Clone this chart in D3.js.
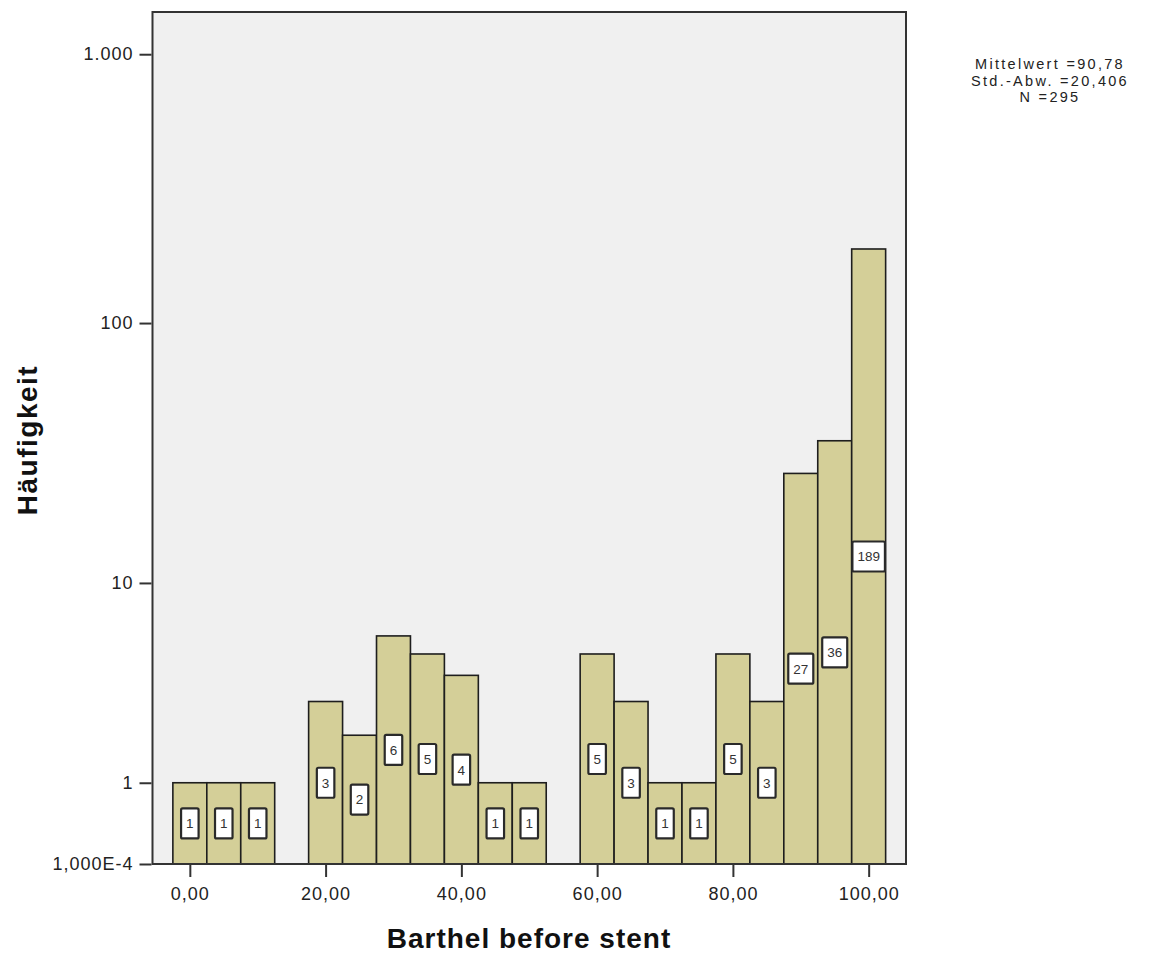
<!DOCTYPE html>
<html>
<head>
<meta charset="utf-8">
<script src="https://cdn.jsdelivr.net/npm/d3@7"></script>
<style>
  body { margin: 0; background: #fff; }
  text { font-family: "Liberation Sans", Arial, sans-serif; fill: #222; }
</style>
</head>
<body>
<div id="chart"></div>
<script>
// histogram bins (centre of each 5-point bin) and counts
const binCenters = [0, 5, 10, 15, 20, 25, 30, 35, 40, 45, 50, 55, 60, 65, 70, 75, 80, 85, 90, 95, 100];
const counts     = [1, 1, 1, 0, 3, 2, 6, 5, 4, 1, 1, 0, 5, 3, 1, 1, 5, 3, 27, 36, 189];
const binWidth = 5;

const xTickValues = [0, 20, 40, 60, 80, 100];
const yTickValues = [0.0001, 1, 10, 100, 1000];
const yTickLabels = ["1,000E-4", "1", "10", "100", "1.000"];

const statLines = ["Mittelwert =90,78", "Std.-Abw. =20,406", "N =295"];
const xTitle = "Barthel before stent";
const yTitle = "Häufigkeit";

const width = 1149, height = 954;
const plot = {left: 152.5, right: 906, top: 12, bottom: 864};

const svg = d3.select("#chart").append("svg")
    .attr("width", width)
    .attr("height", height);

const x = d3.scaleLinear()
    .domain([-5.5, 105.5])
    .range([plot.left, plot.right]);

// SPSS log axis is really log(1 + n)
const y = d3.scaleSymlog()
    .constant(1)
    .domain([0, 1434])
    .range([plot.bottom, plot.top]);

// plot background
svg.append("rect")
    .attr("x", plot.left)
    .attr("y", plot.top)
    .attr("width", plot.right - plot.left)
    .attr("height", plot.bottom - plot.top)
    .attr("fill", "#f0f0f0");

const bins = binCenters.map((c, i) => ({x0: c - binWidth / 2, x1: c + binWidth / 2, n: counts[i]}))
    .filter(d => d.n > 0);

// bars
svg.selectAll(".bar")
    .data(bins)
    .join("rect")
    .attr("class", "bar")
    .attr("x", d => x(d.x0))
    .attr("y", d => y(d.n))
    .attr("width", d => x(d.x1) - x(d.x0))
    .attr("height", d => y(0) - y(d.n))
    .attr("fill", "#d4cf98")
    .attr("stroke", "#1e1e1e")
    .attr("stroke-width", 1.6);

// count labels in white boxes
const labels = svg.selectAll(".lab")
    .data(bins)
    .join("g")
    .attr("class", "lab")
    .attr("transform", d => `translate(${x((d.x0 + d.x1) / 2)}, ${(y(d.n) + y(0)) / 2})`);

labels.append("text")
    .attr("text-anchor", "middle")
    .attr("dy", "0.36em")
    .style("font-size", "13.5px")
    .style("fill", "#333")
    .text(d => d.n);

labels.each(function () {
    let g = d3.select(this);
    let w = g.select("text").node().getComputedTextLength() + 10;
    g.insert("rect", "text")
        .attr("x", -w / 2)
        .attr("y", -15)
        .attr("width", w)
        .attr("height", 30)
        .attr("rx", 1.5)
        .attr("fill", "#fff")
        .attr("stroke", "#2a2a2a")
        .attr("stroke-width", 2.2);
});

// plot border
svg.append("rect")
    .attr("x", plot.left)
    .attr("y", plot.top)
    .attr("width", plot.right - plot.left)
    .attr("height", plot.bottom - plot.top)
    .attr("fill", "none")
    .attr("stroke", "#333")
    .attr("stroke-width", 2);

// axes
const xAxis = d3.axisBottom(x)
    .tickValues(xTickValues)
    .tickFormat(d => d3.format(".2f")(d).replace(".", ","))
    .tickSize(12)
    .tickPadding(10);

const yAxis = d3.axisLeft(y)
    .tickValues(yTickValues)
    .tickFormat((d, i) => yTickLabels[i])
    .tickSize(12)
    .tickPadding(6);

svg.append("g")
    .attr("class", "x-axis axis")
    .attr("transform", `translate(0, ${plot.bottom + 1})`)
    .call(xAxis);

svg.append("g")
    .attr("class", "y-axis axis")
    .attr("transform", `translate(${plot.left - 1}, 0)`)
    .call(yAxis);

svg.selectAll(".axis .domain").remove();
svg.selectAll(".axis line").attr("stroke", "#333").attr("stroke-width", 2);
svg.selectAll(".axis text")
    .attr("fill", null)
    .style("font-size", "18px")
    .style("letter-spacing", "1px")
    .style("fill", "#222");

// axis titles
svg.append("text")
    .attr("x", 529)
    .attr("y", 948)
    .attr("text-anchor", "middle")
    .style("font-size", "28px")
    .style("font-weight", "bold")
    .style("letter-spacing", "1px")
    .style("fill", "#111")
    .text(xTitle);

svg.append("text")
    .attr("transform", "translate(37, 440) rotate(-90)")
    .attr("text-anchor", "middle")
    .style("font-size", "28px")
    .style("font-weight", "bold")
    .style("letter-spacing", "1.5px")
    .style("fill", "#111")
    .text(yTitle);

// statistics box text
svg.append("g")
    .selectAll("text")
    .data(statLines)
    .join("text")
    .attr("x", 1050)
    .attr("y", (d, i) => 69 + i * 16.5)
    .attr("text-anchor", "middle")
    .style("font-size", "14.5px")
    .style("letter-spacing", "2.3px")
    .style("fill", "#222")
    .text(d => d);
</script>
</body>
</html>
